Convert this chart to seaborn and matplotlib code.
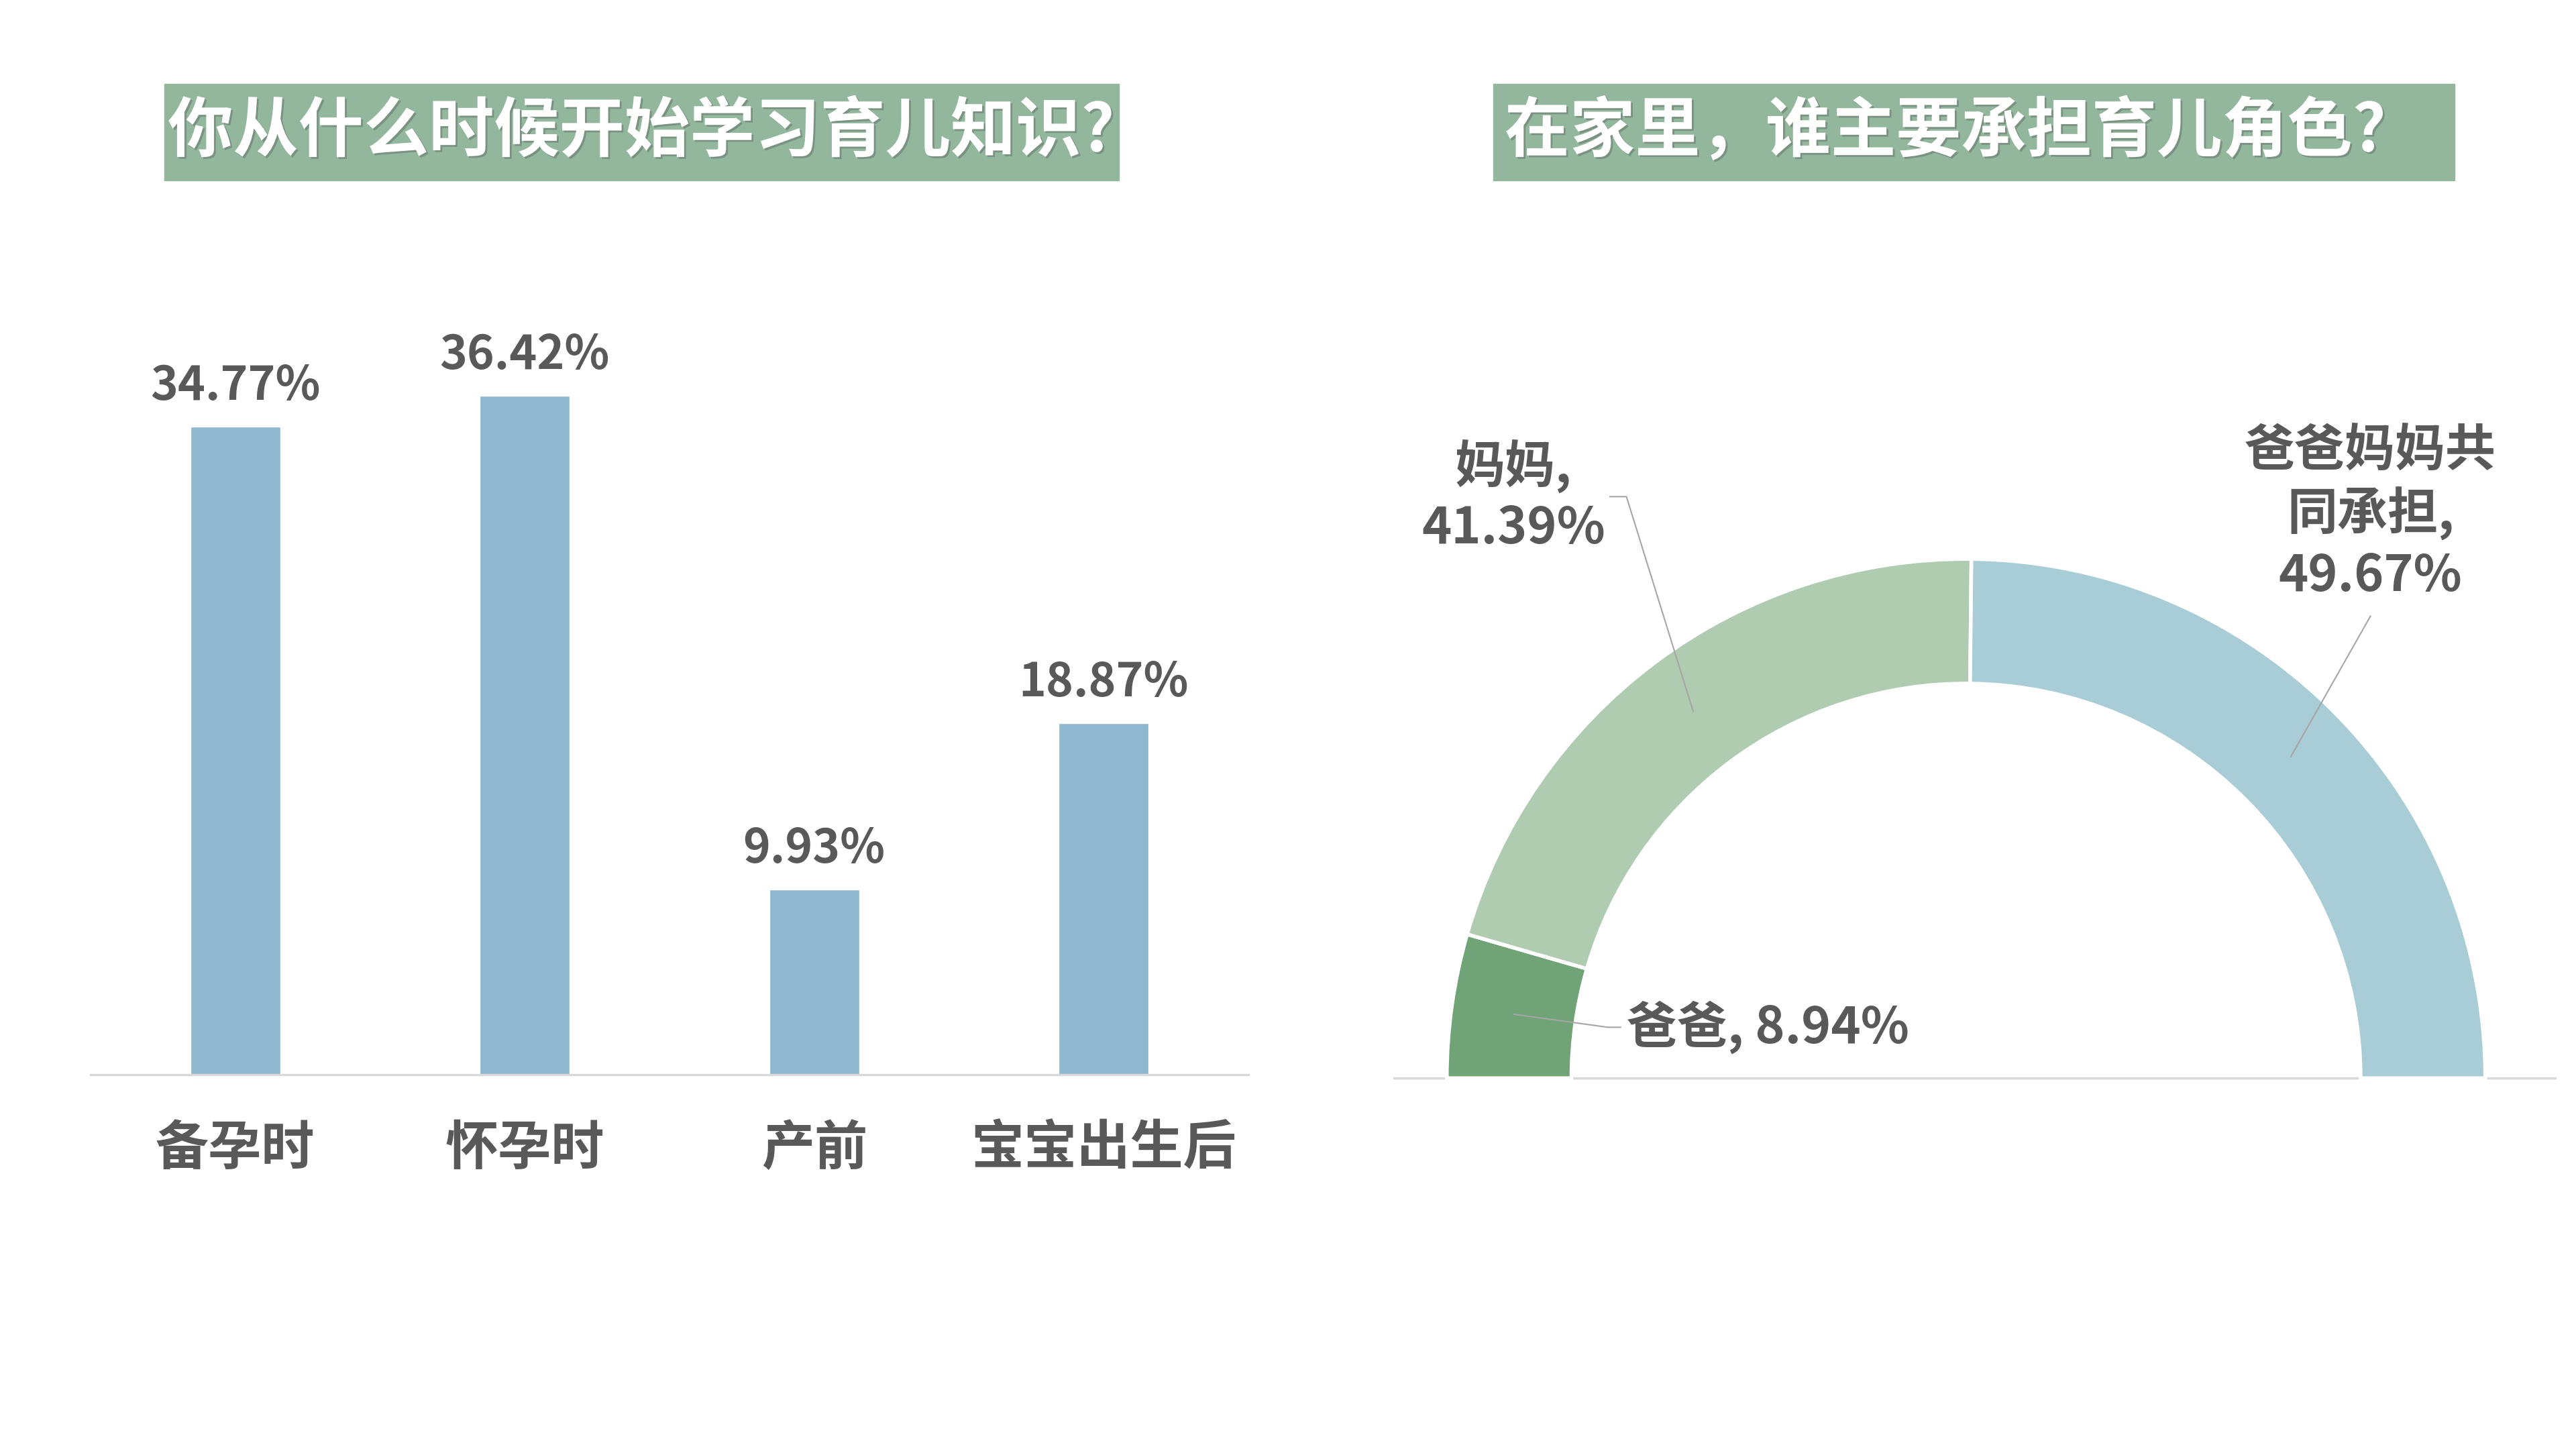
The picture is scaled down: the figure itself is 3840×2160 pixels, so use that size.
import numpy as np
import pandas as pd
import seaborn as sns
import matplotlib.pyplot as plt
from matplotlib.patches import Rectangle
import matplotlib.patheffects as pe

# data
stages = ['备孕时', '怀孕时', '产前', '宝宝出生后']
stage_pct = [34.77, 36.42, 9.93, 18.87]

roles = ['爸爸', '妈妈', '爸爸妈妈共\n同承担']
role_pct = [8.94, 41.39, 49.67]

title_left = '你从什么时候开始学习育儿知识?'
title_right = '在家里，谁主要承担育儿角色?'

sns.set_theme(style='white')
plt.rcParams['font.family'] = ['Noto Sans CJK SC', 'DejaVu Sans']

grey = '#595959'
bar_color = '#8DB8CF'
role_colors = ['#70A375', '#B0CCB0', '#A8CDD6']
box_color = '#93B79D'

fig = plt.figure(figsize=(38.4, 21.6), dpi=100)
fig.patch.set_facecolor('white')

# title boxes
for x0, w, tx, txt, fs in [(245, 1423, 956, title_left, 70), (2226, 1433, 2900, title_right, 70)]:
    fig.patches.append(Rectangle((x0 / 3840, 1 - 269 / 2160), w / 3840, 144 / 2160,
                                 transform=fig.transFigure, color=box_color, zorder=0))
    fig.text(tx / 3840, 1 - 197 / 2160, txt, color='white', fontsize=fs,
             fontweight='bold', ha='center', va='center',
             path_effects=[pe.withSimplePatchShadow(offset=(2, -2), alpha=0.35)])

# bar chart
df = pd.DataFrame({'stage': stages, 'pct': stage_pct})
ax = fig.add_axes([135 / 3840, 1 - 1602 / 2160, 1726 / 3840, 1111 / 2160])
sns.barplot(data=df, x='stage', y='pct', color=bar_color, width=0.31,
            saturation=1, ax=ax, errorbar=None)
ax.set_ylim(0, 40)
ax.set_xlim(-0.5, 3.5)
ax.set_xlabel('')
ax.set_ylabel('')
ax.set_yticks([])
for s in ['top', 'right', 'left']:
    ax.spines[s].set_visible(False)
ax.spines['bottom'].set_color('#d9d9d9')
ax.spines['bottom'].set_linewidth(2.5)
ax.tick_params(axis='x', length=0, pad=50, labelsize=57, labelcolor=grey)
for lab in ax.get_xticklabels():
    lab.set_fontweight('bold')
ax.bar_label(ax.containers[0], labels=[f'{v:.2f}%' for v in stage_pct],
             padding=18, fontsize=50, fontweight='bold', color=grey)

# half donut
R = 774
axp = fig.add_axes([2077 / 3840, 1 - 1762 / 2160, 2.24 * R / 3840, 1.6 * R / 2160])
vals = role_pct + [sum(role_pct)]
wedges, _ = axp.pie(vals, startangle=180, counterclock=False, radius=1,
                    wedgeprops=dict(width=0.24, edgecolor='white', linewidth=4))
for w, c in zip(wedges, role_colors + ['none']):
    w.set_facecolor(c)
wedges[-1].set_edgecolor('none')
axp.set_xlim(-1.103, 1.137)
axp.set_ylim(-0.2, 1.4)
axp.set_aspect('auto')
axp.axhline(0, color='#d9d9d9', lw=2.5, zorder=0)

# leader anchors at wedge mid angles
edges = 180 - np.cumsum([0] + role_pct) / 100 * 180
mids = np.radians((edges[:-1] + edges[1:]) / 2)
anchors = [(0.88 * np.cos(a), 0.88 * np.sin(a)) for a in mids]

lc = '#a6a6a6'
# 爸爸
ax0 = anchors[0]
axp.plot([ax0[0], -0.69, -0.665], [ax0[1], 0.098, 0.098], color=lc, lw=1.5)
axp.text(-0.654, 0.098, f'{roles[0]}, {role_pct[0]:.2f}%', ha='left', va='center',
         fontsize=54, fontweight='bold', color=grey)
# 妈妈
a1 = anchors[1]
axp.plot([a1[0], -0.654, -0.686], [a1[1], 1.12, 1.12], color=lc, lw=1.5)
axp.text(-0.872, 1.12, f'{roles[1]},\n{role_pct[1]:.2f}%', ha='center', va='center',
         fontsize=54, fontweight='bold', color=grey, linespacing=1.25)
# 共同承担
a2 = anchors[2]
axp.plot([a2[0], 0.779], [a2[1], 0.89], color=lc, lw=1.5)
axp.text(0.779, 1.088, f'{roles[2]},\n{role_pct[2]:.2f}%', ha='center', va='center',
         fontsize=54, fontweight='bold', color=grey, linespacing=1.25)

fig.savefig('out.png', dpi=100, facecolor='white')
